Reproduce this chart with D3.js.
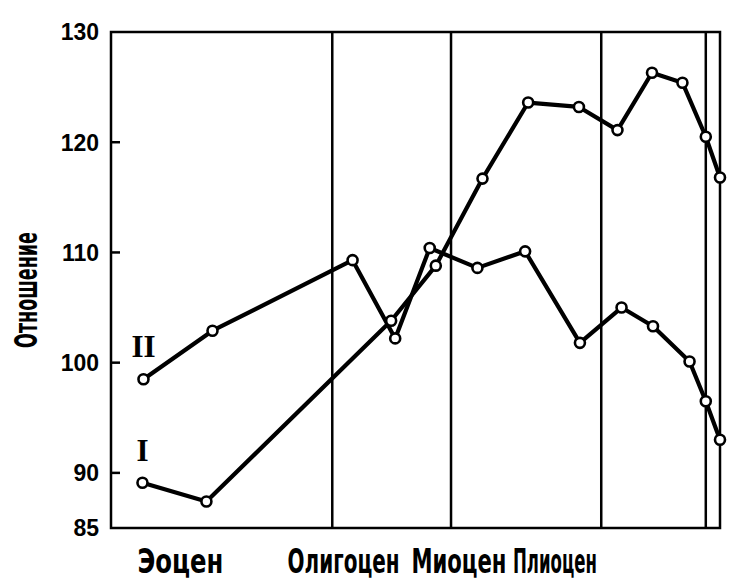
<!DOCTYPE html>
<html><head><meta charset="utf-8">
<script src="https://cdn.jsdelivr.net/npm/d3@7"></script>
<style>html,body{margin:0;padding:0;background:#fff;}svg{display:block;}</style>
</head><body>
<script>
// --- data (ages in millions of years ago, values = "Отношение") ---
const ageII = [56.8, 50.0, 36.2, 32.0, 28.6, 23.9, 19.2, 13.8, 9.7, 6.6, 3.0, 1.4, 0];
const valII = [98.5, 102.9, 109.3, 102.2, 110.4, 108.6, 110.1, 101.8, 105.0, 103.3, 100.1, 96.5, 93.0];
const ageI  = [56.9, 50.6, 32.4, 28.0, 23.4, 18.9, 13.9, 10.1, 6.7, 3.7, 1.4, 0];
const valI  = [89.1, 87.4, 103.8, 108.8, 116.7, 123.6, 123.2, 121.1, 126.3, 125.4, 120.5, 116.8];
const epochBounds = [38.2, 26.5, 11.7, 1.4];
const epochNames = ["Эоцен", "Олигоцен", "Миоцен", "Плиоцен"];
const epochLabelAge = [57.4, 42.6, 30.4, 20.4];
const epochLabelLen = [86, 112, 95, 84];
const yTickVals = [85, 90, 100, 110, 120, 130];
const yInnerTicks = [90, 100, 110, 120];
const seriesNames = ["II", "I"];
const yTitle = "Отношение";

(function () {
const W = 742, H = 584;
const mL = 111, mR = 720, mT = 32, mB = 528;
const x = d3.scaleLinear().domain([60, 0]).range([mL, mR]);
const y = d3.scaleLinear().domain([85, 130]).range([mB, mT]);

const svg = d3.select("body").append("svg").attr("width", W).attr("height", H);

// frame
svg.append("rect").attr("x", mL).attr("y", mT).attr("width", mR - mL).attr("height", mB - mT)
  .attr("fill", "none").attr("stroke", "#000").attr("stroke-width", 2.5);

// epoch boundaries
svg.selectAll("line.ep").data(epochBounds).enter().append("line")
  .attr("x1", d => x(d)).attr("x2", d => x(d)).attr("y1", mT).attr("y2", mB)
  .attr("stroke", "#000").attr("stroke-width", 2.5);

// y axis ticks (inner) and labels
svg.selectAll("line.tk").data(yInnerTicks).enter().append("line")
  .attr("x1", mL).attr("x2", mL + 9).attr("y1", d => y(d)).attr("y2", d => y(d))
  .attr("stroke", "#000").attr("stroke-width", 2.5);
svg.selectAll("text.yl").data(yTickVals).enter().append("text")
  .attr("x", 99).attr("y", d => y(d)).attr("dy", "0.36em").attr("text-anchor", "end")
  .attr("font-family", "Liberation Sans, Arial, sans-serif").attr("font-weight", "bold")
  .attr("font-size", 23).text(d => d);

// condensed text helper: scale horizontally to a target length
function condensed(g, txt, size, len, pre) {
  const t = g.append("text").attr("font-family", "DejaVu Sans, sans-serif")
    .attr("font-weight", "bold").attr("font-size", size).text(txt);
  const nat = t.node().getComputedTextLength();
  t.attr("transform", pre + " scale(" + (len / nat) + ",1)");
  return t;
}

// y title
condensed(svg, yTitle, 32, 116, "translate(37,348) rotate(-90)");

// epoch labels
epochNames.forEach((nm, i) => {
  condensed(svg, nm, 34, epochLabelLen[i], "translate(" + x(epochLabelAge[i]) + ",573)");
});

// series
const series = [
  {name: seriesNames[0], pts: ageII.map((a, i) => [a, valII[i]])},
  {name: seriesNames[1], pts: ageI.map((a, i) => [a, valI[i]])}
];
const line = d3.line().x(d => x(d[0])).y(d => y(d[1]));
series.forEach(s => {
  svg.append("path").attr("d", line(s.pts)).attr("fill", "none").attr("stroke", "#000")
    .attr("stroke-width", 4.2).attr("stroke-linejoin", "round").attr("stroke-linecap", "round");
});
series.forEach(s => {
  svg.selectAll(null).data(s.pts).enter().append("circle")
    .attr("cx", d => x(d[0])).attr("cy", d => y(d[1])).attr("r", 5)
    .attr("fill", "#fff").attr("stroke", "#000").attr("stroke-width", 2.6);
  const p0 = s.pts[0];
  svg.append("text").attr("x", x(p0[0])).attr("y", y(p0[1]) - 33).attr("dy", "0.35em")
    .attr("text-anchor", "middle").attr("font-family", "Liberation Serif, Times New Roman, serif")
    .attr("font-weight", "bold").attr("font-size", 31).text(s.name);
});
})();
</script>
</body></html>
